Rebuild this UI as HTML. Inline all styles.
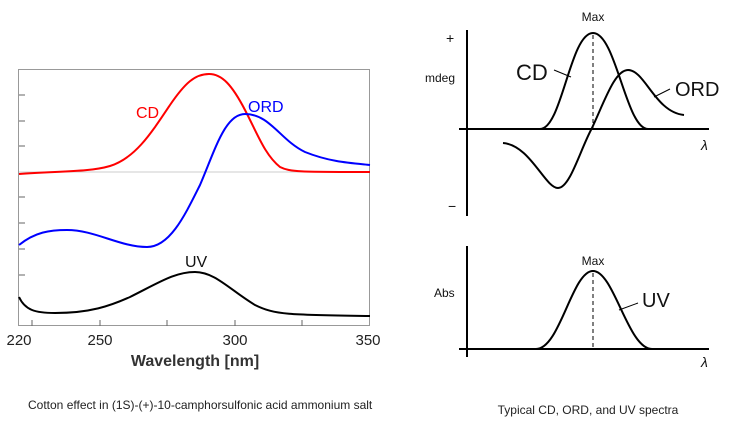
<!DOCTYPE html>
<html><head><style>
html,body{margin:0;padding:0;background:#fff;}
svg{display:block;}
text{font-family:"Liberation Sans",sans-serif;}
</style></head><body>
<svg width="734" height="425" viewBox="0 0 734 425">
<!-- left chart frame -->
<rect x="18.5" y="69.5" width="351" height="256" fill="none" stroke="#999" stroke-width="1"/>
<line x1="19" y1="172" x2="369" y2="172" stroke="#ccc" stroke-width="1"/>
<g stroke="#666" stroke-width="1">
<line x1="19" y1="95" x2="25" y2="95"/><line x1="19" y1="121" x2="25" y2="121"/>
<line x1="19" y1="146" x2="25" y2="146"/><line x1="19" y1="197" x2="25" y2="197"/>
<line x1="19" y1="223" x2="25" y2="223"/><line x1="19" y1="249" x2="25" y2="249"/>
<line x1="19" y1="275" x2="25" y2="275"/>
<line x1="32" y1="326" x2="32" y2="320"/><line x1="100" y1="326" x2="100" y2="320"/>
<line x1="167" y1="326" x2="167" y2="320"/><line x1="235" y1="326" x2="235" y2="320"/>
<line x1="302" y1="326" x2="302" y2="320"/>
</g>
<path d="M19,174 C60,171 90,172 110,166 C135,158 150,135 170,105 C185,83 195,74 209,74 C222,74 232,85 245,110 C258,135 265,155 280,167 C290,172 300,172 370,172" fill="none" stroke="#f00" stroke-width="2"/>
<path d="M19,245 C35,232 50,230 67,230 C95,230 120,247 147,247 C170,247 185,215 200,185 C215,150 225,114 245,114 C270,114 280,140 305,152 C330,162 350,163 370,165" fill="none" stroke="#00f" stroke-width="2"/>
<path d="M19,297 C25,310 35,313 55,313 C90,313 110,306 130,297 C160,282 175,272 195,272 C215,272 230,290 255,305 C275,315 290,315 370,316" fill="none" stroke="#000" stroke-width="2"/>
<text x="136" y="118" font-size="16" fill="#f00">CD</text>
<text x="248" y="112" font-size="16" fill="#00f">ORD</text>
<text x="185" y="267" font-size="16" fill="#111">UV</text>
<g font-size="15" fill="#222" text-anchor="middle">
<text x="19" y="345">220</text><text x="100" y="345">250</text>
<text x="235" y="345">300</text><text x="368" y="345">350</text>
</g>
<text x="195" y="366" font-size="16" font-weight="bold" fill="#333" text-anchor="middle">Wavelength [nm]</text>
<text x="28" y="409" font-size="12" fill="#222">Cotton effect in (1S)-(+)-10-camphorsulfonic acid ammonium salt</text>

<!-- right top -->
<g stroke="#000" stroke-width="2" fill="none">
<line x1="467" y1="30" x2="467" y2="216"/>
<line x1="459" y1="129" x2="709" y2="129"/>
<path d="M540,129 C562,129 570,33 593,33 C616,33 626,129 648,129"/>
<path d="M503,143 C530,145 545,188 558,188 C570,188 580,150 592,128 C605,100 615,70 628,70 C645,70 655,112 684,115"/>
<line x1="467" y1="246" x2="467" y2="357"/>
<line x1="459" y1="349" x2="709" y2="349"/>
<path d="M536,349 C560,349 572,271 593,271 C614,271 628,349 652,349"/>
</g>
<g stroke="#000" stroke-width="1">
<line x1="593" y1="35" x2="593" y2="128" stroke-dasharray="4,3"/>
<line x1="593" y1="273" x2="593" y2="348" stroke-dasharray="4,3"/>
<line x1="554" y1="70" x2="571" y2="77"/>
<line x1="654" y1="97" x2="670" y2="89"/>
<line x1="619" y1="310" x2="638" y2="303"/>
</g>
<g fill="#111">
<text x="593" y="21" font-size="12" text-anchor="middle">Max</text>
<text x="593" y="265" font-size="12" text-anchor="middle">Max</text>
<text x="446" y="43" font-size="14">+</text>
<text x="448" y="211" font-size="14">−</text>
<text x="425" y="82" font-size="12">mdeg</text>
<text x="434" y="297" font-size="12">Abs</text>
<text x="516" y="80" font-size="22">CD</text>
<text x="675" y="96" font-size="20">ORD</text>
<text x="642" y="307" font-size="20">UV</text>
<text x="701" y="150" font-size="14" font-style="italic">λ</text>
<text x="701" y="367" font-size="14" font-style="italic">λ</text>
</g>
<text x="588" y="414" font-size="12" fill="#222" text-anchor="middle">Typical CD, ORD, and UV spectra</text>
</svg>
</body></html>
